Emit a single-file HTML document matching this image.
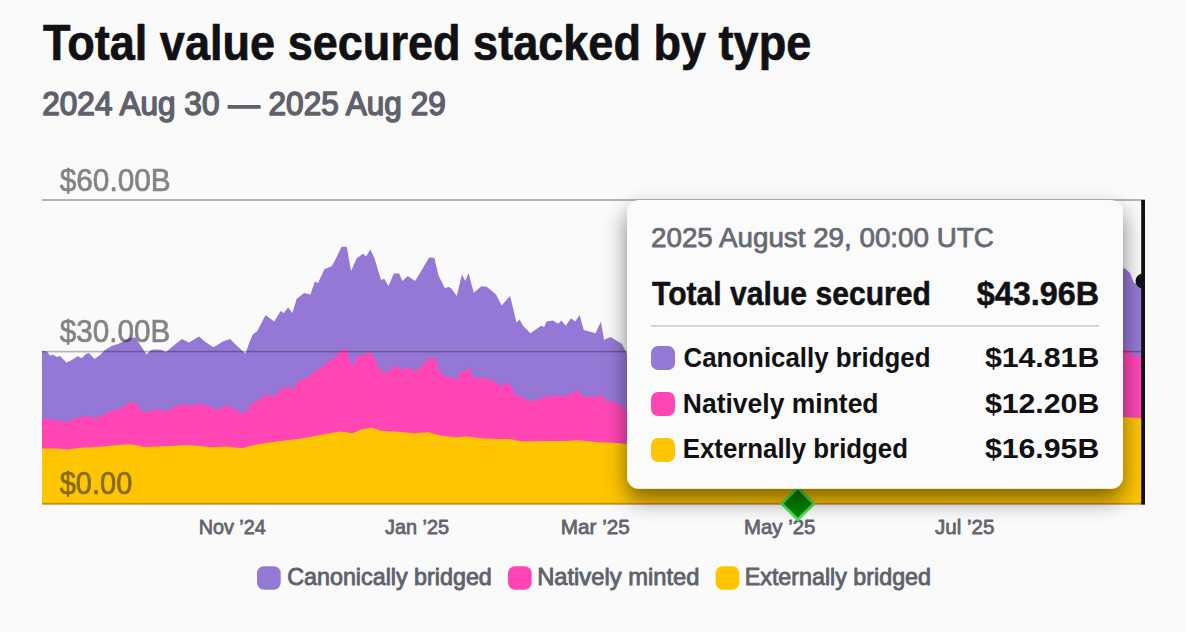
<!DOCTYPE html>
<html><head><meta charset="utf-8"><style>
html,body{margin:0;padding:0;width:1186px;height:632px;overflow:hidden;background:#fafafa;}
</style></head><body>
<svg width="1186" height="632" viewBox="0 0 1186 632" style="position:absolute;left:0;top:0;font-family:'Liberation Sans',sans-serif"><defs><clipPath id="pc"><rect x="42" y="150" width="1103" height="354.5"/></clipPath><filter id="sh" x="-20%" y="-20%" width="140%" height="150%"><feGaussianBlur in="SourceAlpha" stdDeviation="11"/><feOffset dy="10.5"/><feComponentTransfer><feFuncA type="linear" slope="0.5"/></feComponentTransfer><feMerge><feMergeNode/><feMergeNode in="SourceGraphic"/></feMerge></filter></defs><text x="43.0" y="60" font-weight="700" font-size="50" fill="#111114" stroke="#111114" stroke-width="0.7" stroke-linejoin="round" textLength="768.3" lengthAdjust="spacingAndGlyphs">Total value secured stacked by type</text><text x="42.25" y="114.5" font-weight="400" font-size="32.6" fill="#5f616b" stroke="#5f616b" stroke-width="1.5" stroke-linejoin="round" textLength="403.5" lengthAdjust="spacingAndGlyphs">2024 Aug 30 — 2025 Aug 29</text><text x="198.63" y="533.7" font-weight="400" font-size="20.6" fill="#62656f" stroke="#62656f" stroke-width="0.8" stroke-linejoin="round" textLength="67.1" lengthAdjust="spacingAndGlyphs">Nov ’24</text><text x="385.05" y="533.7" font-weight="400" font-size="20.6" fill="#62656f" stroke="#62656f" stroke-width="0.8" stroke-linejoin="round" textLength="64.1" lengthAdjust="spacingAndGlyphs">Jan ’25</text><text x="560.78" y="533.7" font-weight="400" font-size="20.6" fill="#62656f" stroke="#62656f" stroke-width="0.8" stroke-linejoin="round" textLength="69.0" lengthAdjust="spacingAndGlyphs">Mar ’25</text><text x="744.05" y="533.7" font-weight="400" font-size="20.6" fill="#62656f" stroke="#62656f" stroke-width="0.8" stroke-linejoin="round" textLength="71.3" lengthAdjust="spacingAndGlyphs">May ’25</text><text x="935.0" y="533.7" font-weight="400" font-size="20.6" fill="#62656f" stroke="#62656f" stroke-width="0.8" stroke-linejoin="round" textLength="59.5" lengthAdjust="spacingAndGlyphs">Jul ’25</text><text x="287.24" y="584.9" font-weight="400" font-size="23.2" fill="#5f626c" stroke="#5f626c" stroke-width="0.85" stroke-linejoin="round" textLength="204.6" lengthAdjust="spacingAndGlyphs">Canonically bridged</text><text x="537.18" y="584.9" font-weight="400" font-size="23.2" fill="#5f626c" stroke="#5f626c" stroke-width="0.85" stroke-linejoin="round" textLength="162.2" lengthAdjust="spacingAndGlyphs">Natively minted</text><text x="744.73" y="584.9" font-weight="400" font-size="23.2" fill="#5f626c" stroke="#5f626c" stroke-width="0.85" stroke-linejoin="round" textLength="186.3" lengthAdjust="spacingAndGlyphs">Externally bridged</text><g clip-path="url(#pc)"><path d="M42.0,504.5 L42.0,350.8 L47.0,351.5 L50.0,355.5 L53.0,354.5 L56.5,357.0 L60.0,356.0 L66.5,362.5 L71.0,360.4 L78.0,356.0 L81.5,358.2 L86.0,354.0 L89.0,353.0 L94.5,359.0 L99.7,355.2 L105.0,350.0 L111.5,346.0 L118.0,344.0 L124.4,341.0 L131.0,337.5 L135.5,337.5 L140.0,344.5 L146.5,354.4 L151.0,350.0 L155.0,349.5 L161.0,349.7 L166.0,352.0 L173.0,346.1 L182.0,339.0 L189.0,342.5 L199.0,336.6 L206.0,342.6 L213.4,347.3 L222.9,341.4 L230.0,339.0 L237.1,346.1 L245.5,353.5 L249.6,341.8 L252.8,334.4 L257.1,331.2 L265.6,315.1 L274.2,321.5 L280.6,310.9 L283.8,313.0 L288.1,307.6 L292.4,313.0 L296.6,299.1 L304.1,293.1 L310.5,294.4 L314.8,281.6 L318.0,283.1 L324.4,269.2 L331.9,266.0 L336.2,258.1 L341.5,246.8 L346.8,246.8 L351.1,271.3 L356.5,258.5 L362.9,253.8 L366.1,256.4 L370.3,249.5 L374.6,258.5 L381.0,279.9 L384.2,278.8 L388.5,285.9 L393.8,273.5 L399.2,273.5 L402.4,280.9 L407.7,276.0 L415.2,280.9 L421.6,270.3 L429.1,257.4 L434.4,257.8 L438.5,275.6 L445.0,288.4 L448.2,286.7 L451.4,288.4 L456.7,295.9 L462.0,274.5 L465.3,280.9 L468.5,273.0 L473.8,292.7 L481.3,286.3 L486.6,286.7 L492.0,291.0 L496.2,294.8 L501.6,305.5 L510.1,295.9 L516.5,322.6 L519.7,319.4 L523.0,325.8 L530.4,333.3 L541.1,325.8 L544.3,326.9 L546.5,321.5 L552.9,320.5 L558.2,323.7 L561.4,320.5 L565.7,325.8 L571.0,318.3 L575.3,321.5 L579.6,315.1 L583.8,330.1 L595.6,333.3 L600.9,321.5 L604.1,339.7 L610.6,337.1 L618.0,341.4 L622.0,344.0 L627.0,354.0 L900.0,300.0 L1118.0,268.0 L1125.0,268.5 L1130.0,273.0 L1134.0,283.0 L1145.0,285.0 L1145.0,504.5 Z" fill="#9578d5"/><path d="M42.0,504.5 L42.0,418.0 L51.8,419.6 L56.9,420.5 L65.3,421.8 L70.4,421.0 L77.1,418.0 L87.2,415.8 L95.6,418.4 L102.4,415.8 L110.8,410.4 L117.6,409.5 L122.6,407.8 L129.4,401.9 L136.1,403.6 L141.2,410.4 L146.2,412.0 L151.3,410.4 L158.0,409.5 L166.5,411.2 L173.2,407.8 L181.7,404.1 L188.4,406.1 L198.5,403.6 L208.6,406.1 L215.4,410.0 L222.1,407.8 L228.0,405.0 L233.9,409.5 L240.0,411.7 L244.3,413.8 L249.0,407.9 L253.8,402.0 L260.2,400.0 L265.3,394.8 L275.4,395.6 L281.3,388.9 L285.5,388.1 L288.9,386.4 L293.1,390.6 L298.2,381.3 L304.1,378.8 L310.8,376.3 L315.0,370.4 L319.3,369.5 L326.0,362.8 L334.4,358.5 L341.2,350.1 L346.2,349.3 L352.1,366.1 L358.0,356.0 L364.8,354.3 L369.8,352.6 L373.2,355.2 L380.0,369.5 L386.7,372.9 L395.1,365.3 L401.9,369.5 L407.0,367.0 L415.4,371.2 L420.4,367.8 L427.2,358.5 L435.6,358.2 L438.4,368.4 L443.5,376.0 L450.2,376.9 L456.1,379.9 L462.0,370.1 L464.6,371.8 L468.8,367.6 L473.8,378.5 L480.6,377.7 L492.4,379.4 L500.8,386.1 L509.3,382.8 L516.0,395.4 L521.1,396.3 L529.5,401.3 L539.6,398.8 L551.4,395.8 L561.5,395.4 L566.6,396.3 L571.7,392.9 L578.4,390.4 L582.6,396.8 L591.9,396.3 L597.0,397.9 L601.2,392.9 L605.4,401.3 L612.1,401.3 L618.9,403.8 L626.5,410.6 L900.0,380.0 L1118.0,350.0 L1130.0,350.0 L1133.0,356.0 L1145.0,356.0 L1145.0,504.5 Z" fill="#ff46b4"/><path d="M42.0,504.5 L42.0,448.6 L55.2,448.6 L67.8,449.6 L80.5,447.8 L90.6,447.3 L103.2,446.6 L115.9,445.3 L128.5,444.3 L136.1,445.3 L143.7,447.1 L156.4,446.6 L171.5,446.1 L184.2,445.3 L196.8,445.8 L212.0,447.3 L227.2,446.6 L242.4,448.3 L252.5,445.3 L267.7,442.8 L282.9,440.7 L303.1,438.2 L318.3,435.2 L330.0,433.2 L340.1,431.4 L352.8,433.2 L360.4,429.7 L371.7,427.6 L380.6,430.7 L395.8,431.4 L413.5,433.2 L428.7,432.2 L441.3,435.7 L456.5,437.3 L466.6,436.5 L481.8,438.3 L497.0,439.0 L509.6,439.0 L522.3,441.6 L545.0,441.1 L565.3,441.1 L577.9,440.3 L598.2,442.3 L613.3,442.8 L626.0,444.1 L900.0,430.0 L1118.0,417.0 L1130.0,417.5 L1145.0,418.0 L1145.0,504.5 Z" fill="#ffc500"/></g><rect x="42" y="199" width="1103" height="2" fill="rgba(0,0,0,0.28)"/><rect x="42" y="350.8" width="1103" height="1.6" fill="rgba(0,0,0,0.28)"/><rect x="42" y="502.8" width="1103" height="1.6" fill="rgba(60,45,0,0.3)"/><g opacity="0.55"><text x="59.69" y="191" font-weight="400" font-size="30.7" fill="#232323" stroke="#232323" stroke-width="0.7" stroke-linejoin="round" textLength="111.0" lengthAdjust="spacingAndGlyphs">$60.00B</text><text x="59.69" y="342.2" font-weight="400" font-size="30.7" fill="#232323" stroke="#232323" stroke-width="0.7" stroke-linejoin="round" textLength="110.6" lengthAdjust="spacingAndGlyphs">$30.00B</text><text x="59.69" y="494.4" font-weight="400" font-size="30.7" fill="#232323" stroke="#232323" stroke-width="0.7" stroke-linejoin="round" textLength="72.7" lengthAdjust="spacingAndGlyphs">$0.00</text></g><g clip-path="url(#pc2)"><defs><clipPath id="pc2"><rect x="0" y="0" width="1145" height="632"/></clipPath></defs><rect x="1141.2" y="200" width="4" height="304.5" fill="#111"/><circle cx="1143" cy="281" r="7.5" fill="#111"/></g><g transform="translate(797.8,503.7) rotate(45)"><rect x="-11.35" y="-11.35" width="22.7" height="22.7" fill="#048504" stroke="#4fe34f" stroke-width="2.8"/></g><rect x="627" y="200" width="496" height="288.8" rx="12" ry="12" fill="#fbfbfb" filter="url(#sh)"/><rect x="651" y="325" width="448" height="1.8" fill="#cfcfd2"/><rect x="651" y="346" width="24" height="24" rx="7" fill="#9578d5"/><rect x="651" y="392" width="24" height="24" rx="7" fill="#ff46b4"/><rect x="651" y="438" width="24" height="24" rx="7" fill="#ffc500"/><text x="651.05" y="246.5" font-weight="400" font-size="26.8" fill="#676a73" stroke="#676a73" stroke-width="0.75" stroke-linejoin="round" textLength="342.7" lengthAdjust="spacingAndGlyphs">2025 August 29, 00:00 UTC</text><text x="652.05" y="304.8" font-weight="700" font-size="32.6" fill="#111114" stroke="#111114" stroke-width="0.5" stroke-linejoin="round" textLength="278.9" lengthAdjust="spacingAndGlyphs">Total value secured</text><text x="976.65" y="304.8" font-weight="700" font-size="32.6" fill="#111114" stroke="#111114" stroke-width="0.5" stroke-linejoin="round" textLength="122.4" lengthAdjust="spacingAndGlyphs">$43.96B</text><text x="683.54" y="366.6" font-weight="700" font-size="27.5" fill="#111114" textLength="246.9" lengthAdjust="spacingAndGlyphs">Canonically bridged</text><text x="682.77" y="412.7" font-weight="700" font-size="27.5" fill="#111114" textLength="195.8" lengthAdjust="spacingAndGlyphs">Natively minted</text><text x="682.78" y="457.6" font-weight="700" font-size="27.5" fill="#111114" textLength="225.2" lengthAdjust="spacingAndGlyphs">Externally bridged</text><text x="984.9" y="366.6" font-weight="700" font-size="27.5" fill="#111114" textLength="114.4" lengthAdjust="spacingAndGlyphs">$14.81B</text><text x="984.9" y="412.7" font-weight="700" font-size="27.5" fill="#111114" textLength="114.4" lengthAdjust="spacingAndGlyphs">$12.20B</text><text x="984.9" y="457.6" font-weight="700" font-size="27.5" fill="#111114" textLength="114.4" lengthAdjust="spacingAndGlyphs">$16.95B</text><rect x="257" y="566.3" width="23.7" height="23.5" rx="7" fill="#9578d5"/><rect x="508" y="566.3" width="23.7" height="23.5" rx="7" fill="#ff46b4"/><rect x="715.6" y="566.3" width="23.7" height="23.5" rx="7" fill="#ffc500"/></svg>
</body></html>
